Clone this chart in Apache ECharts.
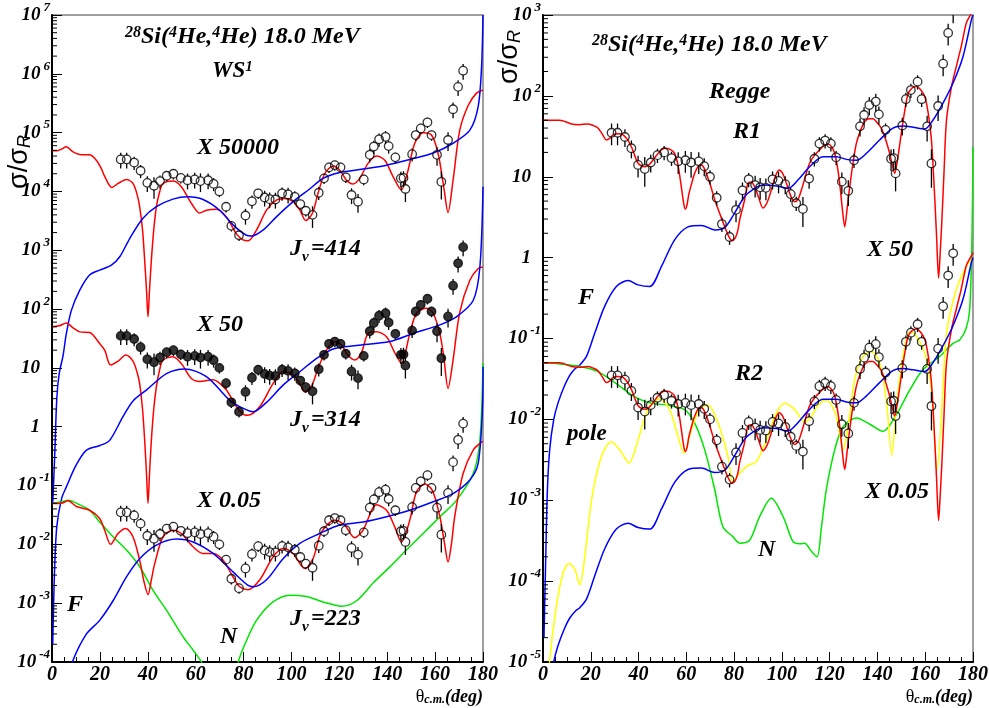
<!DOCTYPE html>
<html><head><meta charset="utf-8">
<script src="https://cdn.jsdelivr.net/npm/echarts@6/dist/echarts.min.js"></script>
<style>html,body{margin:0;padding:0;background:#fff}#c{width:989px;height:708px}</style>
</head><body><div id="c"></div>
<script>
// ---------- experimental data (unscaled sigma/sigma_R) ----------
const dataAngle = [28.7,31.2,34.3,37.0,39.8,42.6,45.1,47.9,50.7,53.8,56.6,59.6,62.0,65.2,67.5,69.9,72.7,74.9,78.1,80.8,83.5,86.1,88.8,90.9,93.3,96.1,98.6,101.4,103.7,106.0,108.8,111.4,113.6,115.7,118.1,120.5,122.7,125.1,127.8,130.2,132.7,134.4,136.6,139.3,140.6,143.4,145.7,146.8,147.6,150.4,151.9,154.0,156.8,158.5,160.8,162.6,165.4,167.5,169.6,171.7];
const dataValue = [0.70,0.70,0.62,0.45,0.28,0.25,0.30,0.37,0.40,0.34,0.31,0.32,0.30,0.31,0.27,0.20,0.11,0.052,0.036,0.078,0.136,0.186,0.158,0.148,0.146,0.186,0.178,0.162,0.122,0.094,0.080,0.19,0.334,0.514,0.56,0.514,0.348,0.174,0.134,0.32,0.84,1.16,1.54,1.70,1.18,0.76,0.334,0.34,0.22,0.86,1.82,2.36,3.0,1.82,0.84,0.292,1.5,5.0,12.0,22.6];
const dataErr = [0.3,0.3,0.25,0.25,0.3,0.4,0.25,0.2,0.2,0.2,0.3,0.3,0.35,0.3,0.25,0.2,0.2,0.2,0.2,0.3,0.25,0.2,0.3,0.3,0.3,0.25,0.3,0.25,0.2,0.2,0.4,0.25,0.2,0.2,0.2,0.2,0.2,0.3,0.35,0.2,0.25,0.25,0.25,0.25,0.25,0.2,0.3,0.3,0.4,0.25,0.2,0.2,0.2,0.2,0.35,0.5,0.35,0.3,0.3,0.3];

// ---------- scale factors shown in the chart ----------
const leftFactors = [50000, 50, 0.05];
const rightFactors = [50, 0.05];

// ---------- WS model curves (unscaled) ----------
const ws414Total = [[0,0.98],[2,0.98],[4,1.05],[6,1.15],[8.8,0.94],[12.3,0.84],[15.7,0.84],[18.5,0.68],[20.5,0.5],[22,0.36],[25,0.234],[27.6,0.274],[31.1,0.32],[33.8,0.274],[35.5,0.18],[36.6,0.11],[37.8,0.045],[38.7,0.0136],[39.5,0.004],[40.1,0.00148],[40.7,0.004],[41.5,0.0136],[42.5,0.045],[43.6,0.11],[45,0.2],[46.4,0.274],[50.5,0.3],[54,0.24],[58.2,0.126],[61.7,0.086],[64.5,0.096],[68.7,0.1],[72.8,0.074],[77,0.038],[79.8,0.03],[81.9,0.029],[85.4,0.044],[89.6,0.096],[93.7,0.142],[97.2,0.152],[100.7,0.134],[103.5,0.096],[106,0.064],[108.8,0.086],[111.1,0.186],[113.9,0.4],[117.4,0.54],[120.2,0.46],[123,0.31],[125.7,0.268],[128.5,0.334],[132,0.6],[135.5,0.8],[139,0.68],[142.4,0.36],[145.9,0.212],[148.7,0.46],[151.5,1.32],[155,2.0],[158.5,1.82],[161.2,0.9],[163.6,0.24],[165.4,0.088],[167.5,0.31],[170.3,2.2],[173.8,5.8],[177.3,9.4],[180,10.6]];
const ws414Far = [[0.3,1e-6],[1.1,6e-6],[2,6e-5],[3,1.6e-4],[4.6,3.2e-4],[6,7.7e-4],[8.1,1.9e-3],[11.6,4.2e-3],[15.7,7.6e-3],[19.9,9.2e-3],[24.8,0.0112],[28.3,0.0155],[32.5,0.032],[38,0.07],[43.6,0.11],[50.5,0.148],[56.8,0.162],[63.1,0.146],[70,0.096],[75.6,0.054],[81.2,0.036],[83.3,0.035],[88.1,0.044],[93.7,0.074],[100.7,0.134],[107.6,0.22],[113.2,0.334],[120.2,0.42],[129.9,0.48],[139.7,0.56],[149.4,0.7],[159.2,0.9],[167.5,1.32],[174.5,2.2],[178,5.6],[179.4,26],[180,200]];
const ws314Total = [[0,1.0],[3,1.04],[6,1.16],[8.8,0.96],[11.6,0.82],[15.7,0.8],[19.9,0.52],[22,0.4],[24.5,0.224],[27.6,0.26],[30.8,0.33],[33.8,0.26],[35.5,0.17],[36.6,0.108],[37.8,0.04],[38.7,0.0118],[39.5,0.003],[40.1,0.001],[40.7,0.003],[41.5,0.0118],[42.5,0.04],[43.6,0.096],[45,0.19],[46.4,0.272],[50.5,0.31],[54,0.238],[58.2,0.132],[61.7,0.118],[67.3,0.126],[72.8,0.084],[77,0.044],[80.5,0.0316],[81.9,0.0314],[86.8,0.044],[92.3,0.108],[96.5,0.172],[100.7,0.152],[103.5,0.108],[105.6,0.078],[108.3,0.096],[111.1,0.196],[114.6,0.4],[118.1,0.56],[120.9,0.49],[123.6,0.33],[126.4,0.272],[129.2,0.36],[132,0.77],[135.5,0.82],[139.7,0.68],[143,0.372],[145.9,0.24],[149.4,0.76],[152.2,1.7],[156.4,2.06],[159.2,1.7],[162,0.76],[163.6,0.31],[165.4,0.09],[167.5,0.272],[170.3,1.78],[174.5,6.2],[178,9.8],[180,10.4]];
const ws314Far = [[0.3,4e-6],[1,6e-5],[2,4e-4],[4,1.2e-3],[6,1.9e-3],[10,4.4e-3],[14.4,8e-3],[20,9.6e-3],[24,0.0116],[29.7,0.03],[34,0.056],[39.4,0.084],[47.8,0.16],[55.4,0.192],[64.5,0.142],[74.2,0.056],[78.4,0.044],[84,0.036],[89.6,0.052],[96.5,0.102],[103.5,0.172],[110.4,0.288],[117.4,0.42],[127.2,0.48],[141,0.56],[150.8,0.77],[162,1.08],[168.9,1.48],[175.9,2.8],[178.7,10.4],[180,240]];
const ws223Total = [[0,0.99],[3.9,1.0],[6.7,1.1],[10.2,0.88],[15.7,0.76],[19.9,0.55],[22,0.348],[24.5,0.2],[27.6,0.306],[30.8,0.372],[33.8,0.27],[36.6,0.108],[38.5,0.045],[40.1,0.028],[41.5,0.05],[42.9,0.094],[46.4,0.27],[50.5,0.348],[54,0.306],[58.9,0.182],[63.1,0.14],[67.3,0.14],[71.4,0.108],[75.6,0.056],[78.4,0.038],[81.9,0.034],[86.8,0.05],[92.3,0.122],[96.5,0.17],[100.7,0.14],[105.6,0.078],[109,0.114],[112.5,0.32],[118.1,0.512],[122.3,0.42],[126.4,0.26],[129.9,0.348],[135.5,0.94],[139.7,0.76],[143.1,0.4],[145.9,0.22],[149.4,0.512],[152.2,1.56],[155.7,2.12],[158.9,1.64],[162,0.59],[164,0.2],[165.4,0.1],[166.8,0.2],[168.2,0.6],[171.7,3.2],[175.9,8],[179.4,11],[180,11.2]];
const ws223Far = [[6,8e-4],[8.8,2.14e-3],[14.4,6e-3],[19.9,0.0102],[25.5,0.022],[31.1,0.056],[36.6,0.114],[43.6,0.194],[52,0.246],[58.9,0.22],[67.3,0.14],[75.6,0.068],[81.9,0.04],[84,0.038],[89.6,0.05],[96.5,0.114],[103.5,0.208],[111.8,0.306],[120.2,0.426],[129.9,0.48],[139.7,0.59],[149.4,0.76],[159.2,1.06],[167.5,1.46],[174.5,2.48],[178,4.8],[179.8,44],[180,210]];
const ws223Near = [[0,0.99],[3.9,1.06],[6.7,1.12],[11.6,0.94],[15.7,0.76],[19.9,0.48],[25.5,0.27],[31.1,0.16],[36.6,0.084],[42.2,0.033],[47.8,0.0152],[54.7,0.0054],[58.9,0.0032],[63.1,0.0018],[67,0.0008],[71,0.0005],[75,0.0008],[78.4,0.0024],[81.2,0.0046],[85.4,0.0102],[92.3,0.021],[99.3,0.0274],[106.3,0.026],[113.2,0.021],[120.9,0.0178],[127.2,0.022],[134.1,0.044],[141,0.082],[148,0.16],[155,0.306],[162,0.59],[168.9,1.12],[175.9,3.2],[178.7,11.8],[180,240]];

// ---------- Regge model curves (unscaled) ----------
const reggeTotal = [[0,1.0],[3,1.0],[7,1.0],[11.9,0.9],[15,0.88],[18.8,0.9],[21,0.86],[23,0.8],[25,0.66],[26.5,0.57],[28,0.6],[29.3,0.66],[31.5,0.68],[33.5,0.66],[35.3,0.58],[37,0.47],[38.5,0.36],[39.8,0.294],[42.6,0.266],[44.3,0.28],[46,0.32],[48.5,0.4],[50.9,0.45],[53,0.44],[55.1,0.39],[56.5,0.28],[57.9,0.15],[59,0.09],[59.6,0.08],[60.3,0.09],[61,0.12],[62.1,0.16],[63.5,0.22],[65.6,0.28],[67,0.27],[68.4,0.22],[70,0.16],[71.9,0.104],[74,0.07],[76.1,0.048],[77.5,0.038],[79.1,0.0324],[80.5,0.035],[81.6,0.044],[82.3,0.058],[84.4,0.104],[85.8,0.166],[87.2,0.172],[88.6,0.15],[90.3,0.11],[92.1,0.082],[93.8,0.096],[95.6,0.138],[97.2,0.2],[98.8,0.242],[100.3,0.22],[101.9,0.166],[103.7,0.116],[105.4,0.098],[106.8,0.106],[108.2,0.138],[110,0.21],[111.6,0.294],[113.7,0.37],[115.8,0.43],[117.5,0.48],[119.3,0.508],[120.8,0.47],[122.1,0.39],[123.3,0.26],[124.2,0.166],[125.3,0.08],[126.3,0.048],[127.3,0.08],[128.4,0.15],[129.8,0.3],[131.2,0.52],[133,0.76],[134.7,0.96],[136.4,1.04],[138.1,1.04],[139.8,0.94],[141.6,0.8],[143.4,0.58],[145.1,0.39],[146.2,0.28],[147.2,0.22],[148.5,0.34],[150,0.694],[151.4,1.3],[152.8,2.1],[154.5,2.5],[156.3,2.62],[158,2.4],[159.8,1.96],[161.3,1.2],[162.6,0.57],[163.7,0.16],[164.7,0.04],[165.6,0.0112],[166.3,0.024],[167,0.06],[167.9,0.24],[168.9,1.0],[171,2.6],[173,4.6],[175,8],[177.2,16],[178.5,19],[179.3,21],[180,23]];
const reggeFar = [[0.4,4e-7],[0.7,1e-6],[1,2.5e-6],[1.8,2.5e-5],[2.8,8.4e-5],[4.5,2e-4],[6.3,3.2e-4],[9,5.2e-4],[11.2,7e-4],[13.5,8.5e-4],[15.4,9.4e-4],[18.2,1.2e-3],[21.6,2.3e-3],[25.8,5e-3],[30.7,8.8e-3],[35.6,0.0104],[39.8,0.0092],[44.7,0.0088],[49.6,0.0156],[55.1,0.0332],[60.7,0.048],[66.3,0.05],[71.9,0.044],[76.1,0.047],[80.2,0.071],[84.4,0.114],[88,0.14],[92.1,0.158],[97.7,0.154],[102.6,0.144],[106.7,0.182],[111.6,0.266],[117.2,0.354],[122.8,0.354],[127,0.328],[131.2,0.32],[135.4,0.39],[140.9,0.57],[146.5,0.8],[150.7,0.85],[154.9,0.82],[159.8,0.78],[163.2,1.0],[167.4,1.62],[171.6,2.86],[175.8,6.1],[179.3,17.3],[180,20]];
const reggeNear = [[0,1.0],[7,0.97],[14.7,0.914],[23,0.78],[31.4,0.534],[38.4,0.38],[45.4,0.316],[52.3,0.3],[59.3,0.264],[63.5,0.18],[67.7,0.084],[71.9,0.027],[75.3,0.0094],[79.5,0.0071],[82.3,0.0059],[86.5,0.0064],[90.7,0.0126],[95.6,0.0212],[100.5,0.0126],[104.6,0.0062],[107.5,0.0058],[109.5,0.0059],[112.3,0.0047],[114.7,0.004],[116.5,0.009],[118.6,0.027],[122.1,0.084],[125.6,0.162],[131.2,0.208],[136.8,0.174],[142.3,0.142],[147.9,0.228],[153.5,0.46],[159,0.82],[166,1.2],[171.6,1.74],[174.4,1.92],[177,2.6],[178.6,4.5],[179.6,40],[180,468]];
const reggePole = [[1.5,5e-5],[2.8,2.1e-4],[5.6,9.8e-4],[8.4,2.5e-3],[10.8,3.3e-3],[13.3,2.8e-3],[15.4,1.8e-3],[17.5,4e-3],[20.3,0.02],[24.4,0.069],[28.6,0.106],[32.1,0.084],[36,0.058],[39.8,0.112],[43.9,0.264],[48.8,0.36],[53,0.264],[56.5,0.124],[59,0.076],[62.1,0.148],[65.6,0.274],[69.1,0.3],[73.3,0.18],[77.4,0.07],[79.5,0.034],[82,0.042],[85.8,0.054],[89.3,0.06],[93.5,0.112],[97.7,0.24],[101.2,0.316],[105.4,0.264],[109.5,0.186],[112.3,0.216],[115.1,0.3],[118.6,0.348],[122.1,0.25],[124.2,0.136],[125.6,0.084],[127.7,0.162],[130.5,0.62],[134,1.2],[137.5,1.38],[140.9,1.0],[143.7,0.348],[146,0.072],[147.9,0.29],[150.7,1.2],[153.5,2.4],[155.5,2.3],[159.8,1.32],[162.6,0.46],[165,0.048],[167.4,0.46],[168.9,2.32],[173,8],[177.2,15.6],[180,19.8]];

// ---------- axis ticks ----------
const xTicks = [0,20,40,60,80,100,120,140,160,180];
const leftDecades = [-4,-3,-2,-1,0,1,2,3,4,5,6,7];
const rightDecades = [-5,-4,-3,-2,-1,0,1,2,3];

// ---------- rendering ----------
const RED='#ff0000', BLUE='#0000ff', GREEN='#00e600', YELLOW='#ffff00';
const SERIF='"Liberation Serif", "DejaVu Serif", serif';

function scaled(pts, f){ return pts.map(p => [p[0], p[1]*f]); }
function curve(pts, f, color, gi){
  return {type:'line', xAxisIndex:gi, yAxisIndex:gi, data: scaled(pts,f), symbol:'none', showSymbol:false,
    smooth:0.3, clip:true, silent:true, animation:false, z:3, lineStyle:{color:color, width:1.5}};
}
function points(f, gi, filled){
  const d = dataAngle.map((a,i)=>[a, dataValue[i]*f]);
  return {type:'scatter', xAxisIndex:gi, yAxisIndex:gi, data:d, symbol:'circle', symbolSize:8.5, clip:true, silent:true, z:5,
    itemStyle:{color: filled ? '#000' : 'rgba(255,255,255,0)', borderColor:'#000', borderWidth:1.3}};
}
function errBars(f, gi){
  const d = dataAngle.map((a,i)=>[a, dataValue[i]*f, dataErr[i]]);
  return {type:'custom', xAxisIndex:gi, yAxisIndex:gi, data:d, encode:{x:0,y:1}, clip:true, silent:true, z:4,
    renderItem:function(params, api){
      const x=api.value(0), v=api.value(1), e=api.value(2);
      const c=api.coord([x,v]), hi=api.coord([x,v*(1+e)]), lo=api.coord([x,v*(1-e)]);
      const r=4.3, ch=[];
      if (c[1]-r > hi[1]) ch.push({type:'line', shape:{x1:c[0],y1:hi[1],x2:c[0],y2:c[1]-r}, style:{stroke:'#000',lineWidth:1.3}});
      if (lo[1] > c[1]+r) ch.push({type:'line', shape:{x1:c[0],y1:c[1]+r,x2:c[0],y2:lo[1]}, style:{stroke:'#000',lineWidth:1.3}});
      return {type:'group', children:ch};
    }};
}
function minorTicks(decades, gi){
  const d=[];
  for (let i=0;i<decades.length-1;i++) for (let k=2;k<=9;k++) d.push([0, k*Math.pow(10,decades[i])]);
  return {type:'custom', xAxisIndex:gi, yAxisIndex:gi, data:d, encode:{x:0,y:1}, clip:false, silent:true, z:6,
    renderItem:function(params, api){
      const p=api.coord([api.value(0), api.value(1)]);
      return {type:'line', shape:{x1:p[0],y1:p[1],x2:p[0]+5,y2:p[1]}, style:{stroke:'#000',lineWidth:1}};
    }};
}
function expLabel(e){
  if (e===0) return '{b|1}{p| }';
  if (e===1) return '{b|10}{p| }';
  return '{b|10}{s|'+e+'}';
}
const labelRich = {
  b:{fontFamily:SERIF, fontWeight:'bold', fontStyle:'italic', fontSize:19, color:'#000', lineHeight:28},
  s:{fontFamily:SERIF, fontWeight:'bold', fontStyle:'italic', fontSize:13, color:'#000', verticalAlign:'top', padding:[0,0,0,3]},
  p:{width:10, fontSize:13}
};
function xAxis(gi){
  return {type:'value', gridIndex:gi, min:0, max:180, interval:20,
    axisLine:{show:true, onZero:false, lineStyle:{color:'#000', width:2}},
    axisTick:{show:true, inside:true, length:10, lineStyle:{color:'#000', width:1}},
    minorTick:{show:true, splitNumber:4, length:5, lineStyle:{color:'#000', width:1}},
    axisLabel:{color:'#000', fontFamily:SERIF, fontWeight:'bold', fontStyle:'italic', fontSize:20, margin:3},
    splitLine:{show:false}, minorSplitLine:{show:false}};
}
// log axis used for drawing the data
function yLogAxis(gi, decades, showLabels, margin){
  return {type:'log', logBase:10, gridIndex:gi, min:Math.pow(10,decades[0]), max:Math.pow(10,decades[decades.length-1]),
    splitNumber:decades.length-1, position:'left',
    axisLine:{show:true, onZero:false, lineStyle:{color:'#000', width:2}},
    axisTick:{show:showLabels, inside:true, length:10, lineStyle:{color:'#000', width:1}},
    axisLabel:{show:showLabels, formatter:function(v){return expLabel(Math.round(Math.log10(v)));}, rich:labelRich, margin:margin},
    splitLine:{show:false}, minorTick:{show:false}};
}
// decade labels in exponent space (one label per decade)
function yDecadeAxis(gi, decades, margin){
  return {type:'value', gridIndex:gi, min:decades[0], max:decades[decades.length-1], interval:1, position:'left',
    axisLine:{show:false}, axisTick:{show:true, inside:true, length:10, lineStyle:{color:'#000', width:1}},
    axisLabel:{formatter:function(v){return expLabel(Math.round(v));}, rich:labelRich, margin:margin},
    splitLine:{show:false}, minorTick:{show:false}};
}
const tStyle = {fontFamily:SERIF, fontWeight:'bold', fontStyle:'italic', fill:'#000'};
function rt(size){ return Object.assign({fontSize:size}, tStyle); }
function label(x, y, text, size){
  return {type:'text', x:x, y:y, silent:true, z:100, style:{text:text, align:'left', verticalAlign:'middle',
    rich:{t:rt(size), sup:Object.assign(rt(Math.round(size*0.65)), {verticalAlign:'top'}), sub:Object.assign(rt(Math.round(size*0.65)), {verticalAlign:'bottom'})}}};
}
function jLabel(x, y, val){
  return [label(x, y, '{t|J}', 24), label(x+12, y+8, '{t|v}', 15), label(x+21, y, '{t|='+val+'}', 24)];
}
const titleText = '{sup|28}{t|Si(}{sup|4}{t|He,}{sup|4}{t|He) 18.0 MeV}';
function axisTitleY(x, y){
  return {type:'text', x:x, y:y, rotation:Math.PI/2, silent:true, z:100, style:{text:'{s|σ/σ}{r|R}', align:'center', verticalAlign:'middle',
    rich:{s:{fontFamily:'"Liberation Sans", Arial, sans-serif', fontSize:27, fill:'#000'}, r:{fontFamily:'"Liberation Sans", Arial, sans-serif', fontStyle:'italic', fontSize:18, fill:'#000', verticalAlign:'bottom'}}}};
}
function axisTitleX(xRight, y){
  return {type:'text', x:xRight, y:y, silent:true, z:100, style:{text:'{th|θ}{cm|c.m.}{dg|(deg)}', align:'right', verticalAlign:'middle',
    rich:{th:{fontFamily:SERIF, fontSize:18, fill:'#000'}, cm:Object.assign(rt(12), {verticalAlign:'bottom'}), dg:rt(18)}}};
}

const series = [
  minorTicks(leftDecades, 0), minorTicks(rightDecades, 1),
  // left panel: WS, J_v = 414 (x50000)
  curve(ws414Total, leftFactors[0], RED, 0), curve(ws414Far, leftFactors[0], BLUE, 0),
  errBars(leftFactors[0], 0), points(leftFactors[0], 0, false),
  // J_v = 314 (x50)
  curve(ws314Total, leftFactors[1], RED, 0), curve(ws314Far, leftFactors[1], BLUE, 0),
  errBars(leftFactors[1], 0), points(leftFactors[1], 0, true),
  // J_v = 223 (x0.05)
  curve(ws223Near, leftFactors[2], GREEN, 0), curve(ws223Total, leftFactors[2], RED, 0), curve(ws223Far, leftFactors[2], BLUE, 0),
  errBars(leftFactors[2], 0), points(leftFactors[2], 0, false),
  // right panel: Regge R1 (x50)
  curve(reggeTotal, rightFactors[0], RED, 1), curve(reggeFar, rightFactors[0], BLUE, 1),
  errBars(rightFactors[0], 1), points(rightFactors[0], 1, false),
  // R2 (x0.05)
  curve(reggeNear, rightFactors[1], GREEN, 1), curve(reggePole, rightFactors[1], YELLOW, 1),
  curve(reggeTotal, rightFactors[1], RED, 1), curve(reggeFar, rightFactors[1], BLUE, 1),
  errBars(rightFactors[1], 1), points(rightFactors[1], 1, false)
];

const option = {
  animation:false,
  backgroundColor:'#fff',
  grid:[
    {left:52, top:15, width:431, height:647, show:true, borderColor:'#808080', borderWidth:1.5, backgroundColor:'rgba(0,0,0,0)', containLabel:false, outerBoundsMode:'none'},
    {left:543, top:15, width:430, height:647, show:true, borderColor:'#808080', borderWidth:1.5, backgroundColor:'rgba(0,0,0,0)', containLabel:false, outerBoundsMode:'none'}
  ],
  xAxis:[xAxis(0), xAxis(1)],
  yAxis:[yLogAxis(0, leftDecades, false, 2), yLogAxis(1, rightDecades, true, 2), yDecadeAxis(0, leftDecades, 2)],
  series:series,
  graphic:[
    axisTitleY(20, 162), axisTitleY(510, 57),
    axisTitleX(483, 697), axisTitleX(973, 697),
    label(125, 37, titleText, 24),
    label(212, 71, '{t|WS}{sup|1}', 23),
    label(197, 148, '{t|X 50000}', 24),
    label(197, 325, '{t|X 50}', 24),
    label(197, 501, '{t|X 0.05}', 24),
    label(67, 605, '{t|F}', 24),
    label(220, 637, '{t|N}', 24),
    label(592, 45, titleText, 24),
    label(709, 92, '{t|Regge}', 24),
    label(733, 132, '{t|R1}', 24),
    label(867, 250, '{t|X 50}', 24),
    label(578, 298, '{t|F}', 24),
    label(735, 374, '{t|R2}', 24),
    label(567, 434, '{t|pole}', 23),
    label(865, 492, '{t|X 0.05}', 24),
    label(758, 550, '{t|N}', 24)
  ].concat(jLabel(290, 249, '414'), jLabel(290, 420, '314'), jLabel(290, 619, '223'))
};
const chart = echarts.init(document.getElementById('c'), null, {renderer:'canvas'});
chart.setOption(option);
</script>
</body></html>
